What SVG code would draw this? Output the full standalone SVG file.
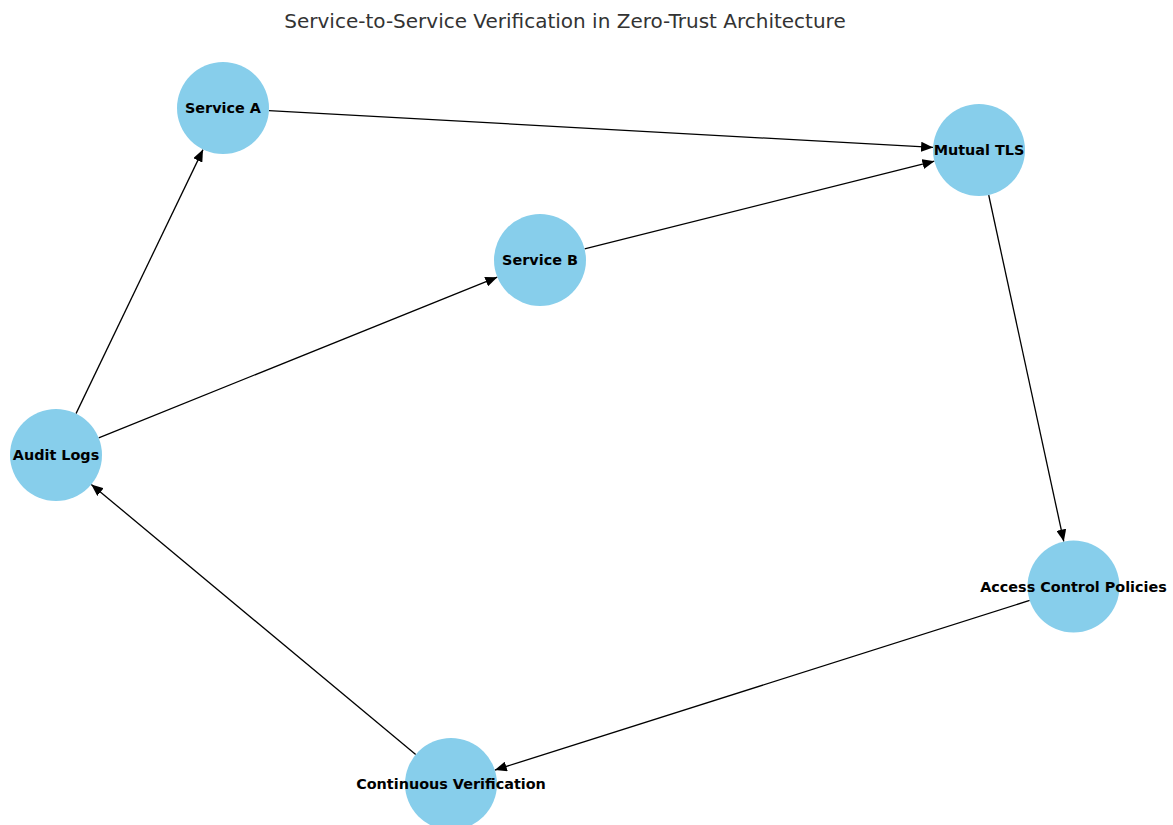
<svg xmlns="http://www.w3.org/2000/svg" width="1173" height="825" viewBox="0 0 1173 825">
  <style>
    .node circle { fill: #87ceeb; }
    .node text { font-family: "DejaVu Sans", sans-serif; font-weight: bold; font-size: 14.4px; fill: #000; text-anchor: middle; dominant-baseline: central; }
    .edges line { stroke: #000; stroke-width: 1.3; marker-end: url(#arrow); }
    .title { font-family: "DejaVu Sans", sans-serif; font-size: 20px; fill: #333; text-anchor: middle; }
  </style>
  <defs>
    <marker id="arrow" markerUnits="userSpaceOnUse" markerWidth="13" markerHeight="10" refX="12" refY="5" orient="auto">
      <path d="M0,0 L12,5 L0,10 Z" fill="#000"/>
    </marker>
  </defs>
  <rect width="1173" height="825" fill="#fff"/>
  <text class="title" x="565" y="28">Service-to-Service Verification in Zero-Trust Architecture</text>

  <g class="edges">
    <line x1="268.9" y1="110.6" x2="933.1" y2="147.4"/>
    <line x1="584.6" y1="248.8" x2="934.4" y2="161.2"/>
    <line x1="988.7" y1="195" x2="1063.8" y2="541.5"/>
    <line x1="1029.7" y1="600.4" x2="494.8" y2="770.1"/>
    <line x1="415.7" y1="754.6" x2="91.3" y2="484.4"/>
    <line x1="76" y1="413.6" x2="203" y2="149.6"/>
    <line x1="98.7" y1="437.8" x2="497.3" y2="277.2"/>
  </g>

  <g id="service-a" class="node"><circle cx="223" cy="108" r="46"/><text x="223" y="108">Service A</text></g>
  <g id="mutual-tls" class="node"><circle cx="979" cy="150" r="46"/><text x="979" y="150">Mutual TLS</text></g>
  <g id="service-b" class="node"><circle cx="540" cy="260" r="46"/><text x="540" y="260">Service B</text></g>
  <g id="audit-logs" class="node"><circle cx="56" cy="455" r="46"/><text x="56" y="455">Audit Logs</text></g>
  <g id="access-control" class="node"><circle cx="1073.5" cy="586.5" r="46"/><text x="1073.5" y="586.5">Access Control Policies</text></g>
  <g id="continuous-verification" class="node"><circle cx="451" cy="784" r="46"/><text x="451" y="784">Continuous Verification</text></g>
</svg>
